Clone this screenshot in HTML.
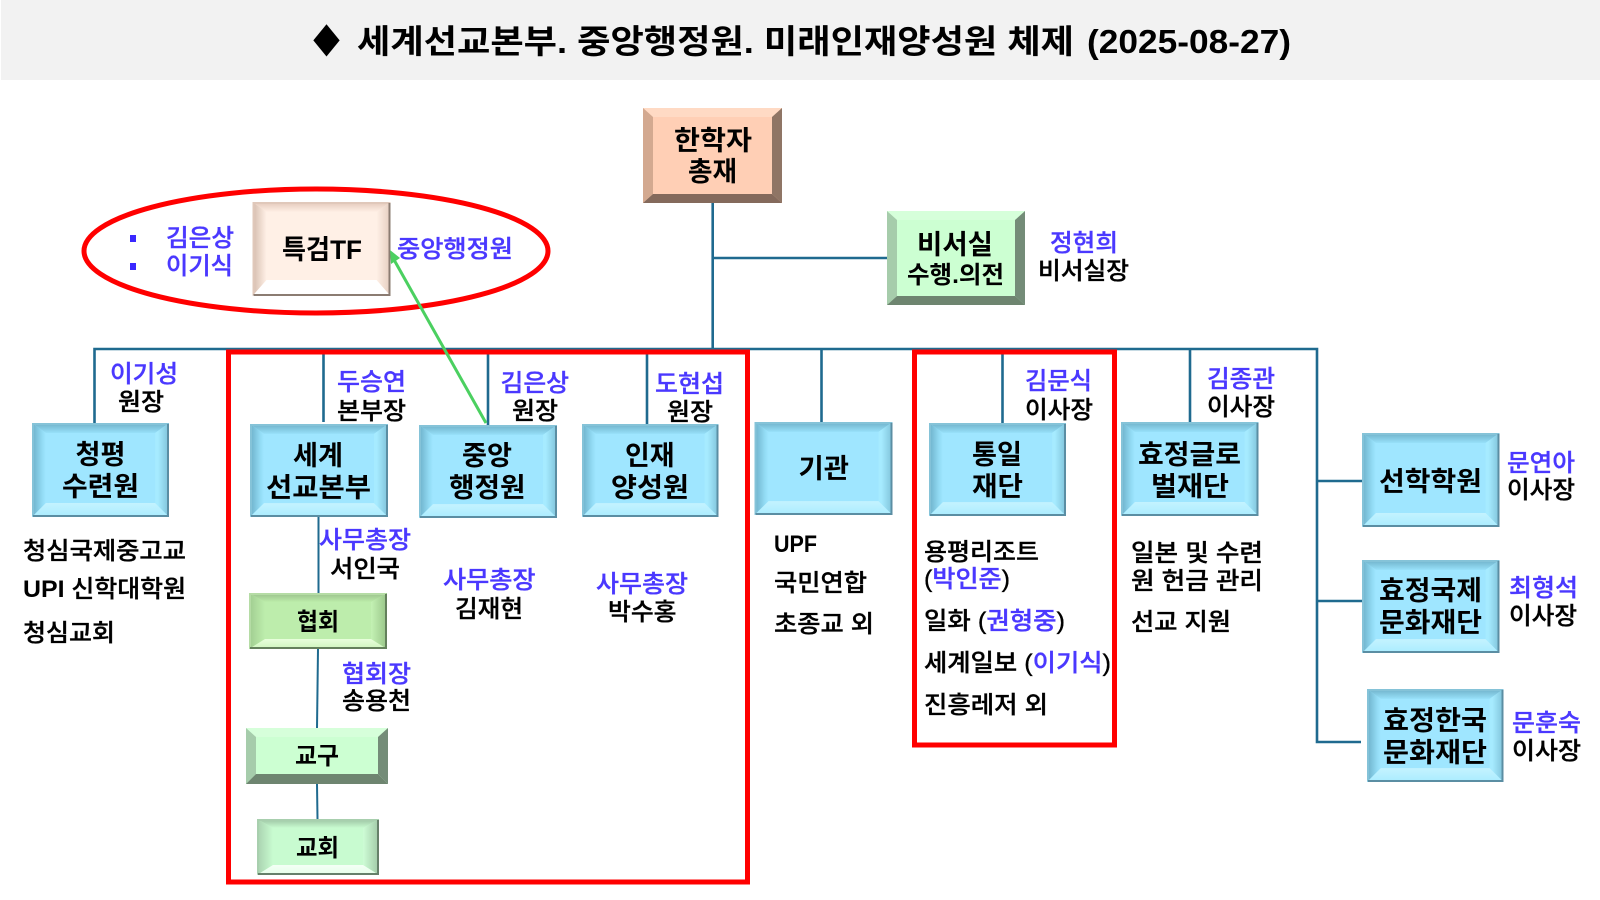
<!DOCTYPE html>
<html lang="ko">
<head>
<meta charset="utf-8">
<title>세계선교본부. 중앙행정원. 미래인재양성원 체제</title>
<style>
html,body{margin:0;padding:0;background:#fff}
svg{display:block}
text{font-family:"Liberation Sans","Noto Sans CJK KR",sans-serif;fill:#000}
.h{font-size:27px;font-weight:700}
.m{font-size:24px;font-weight:700}
.l{font-size:24px;font-weight:500;stroke:#000;stroke-width:.35px}
.l.b,.l .b{fill:#4a38ff;stroke:#4a38ff}
.u{font-weight:700;stroke:none}
</style>
</head>
<body>
<svg xmlns="http://www.w3.org/2000/svg" width="1600" height="900" viewBox="0 0 1600 900">
<defs>
<linearGradient id="bt" x1="0" y1="0" x2="0" y2="1"><stop offset="0" stop-color="#6fb0c8"/><stop offset="1" stop-color="#97e0f9"/></linearGradient>
<linearGradient id="bl" x1="0" y1="0" x2="1" y2="0"><stop offset="0" stop-color="#6cafc8"/><stop offset=".75" stop-color="#93dcf5"/><stop offset="1" stop-color="#9fe6ff"/></linearGradient>
<linearGradient id="br" x1="1" y1="0" x2="0" y2="0"><stop offset="0" stop-color="#7fc2d9"/><stop offset=".8" stop-color="#a6ebff"/><stop offset="1" stop-color="#a6ebff"/></linearGradient>
<linearGradient id="bb" x1="0" y1="0" x2="0" y2="1"><stop offset="0" stop-color="#c4f3ff"/><stop offset="1" stop-color="#a9ecff"/></linearGradient>
<linearGradient id="gt" x1="0" y1="0" x2="0" y2="1"><stop offset="0" stop-color="#98be8a"/><stop offset="1" stop-color="#bcecaa"/></linearGradient>
<linearGradient id="gl" x1="0" y1="0" x2="1" y2="0"><stop offset="0" stop-color="#a0cc90"/><stop offset="1" stop-color="#bdedac"/></linearGradient>
<linearGradient id="gr" x1="1" y1="0" x2="0" y2="0"><stop offset="0" stop-color="#98c488"/><stop offset="1" stop-color="#c4f2b4"/></linearGradient>
<linearGradient id="gb" x1="0" y1="0" x2="0" y2="1"><stop offset="0" stop-color="#e8ffdc"/><stop offset="1" stop-color="#cdf5bc"/></linearGradient>
<linearGradient id="mt" x1="0" y1="0" x2="0" y2="1"><stop offset="0" stop-color="#9cc2a2"/><stop offset="1" stop-color="#c8fbd0"/></linearGradient>
<linearGradient id="ml" x1="0" y1="0" x2="1" y2="0"><stop offset="0" stop-color="#a8d0ae"/><stop offset="1" stop-color="#c8fbd0"/></linearGradient>
<linearGradient id="mr" x1="1" y1="0" x2="0" y2="0"><stop offset="0" stop-color="#a0c8a6"/><stop offset="1" stop-color="#cefdd6"/></linearGradient>
<linearGradient id="mb" x1="0" y1="0" x2="0" y2="1"><stop offset="0" stop-color="#f4fff6"/><stop offset="1" stop-color="#e4ffe8"/></linearGradient>
<linearGradient id="ct" x1="0" y1="0" x2="0" y2="1"><stop offset="0" stop-color="#e3c9ba"/><stop offset="1" stop-color="#ffefe5"/></linearGradient>
<linearGradient id="cl" x1="0" y1="0" x2="1" y2="0"><stop offset="0" stop-color="#d4bbac"/><stop offset="1" stop-color="#fff0e6"/></linearGradient>
<linearGradient id="cr" x1="1" y1="0" x2="0" y2="0"><stop offset="0" stop-color="#e4cdbf"/><stop offset="1" stop-color="#fff0e6"/></linearGradient>

<symbol id="blue" viewBox="0 0 138 94" preserveAspectRatio="none">
<rect width="138" height="94" fill="#9fe6ff"/>
<polygon points="0,0 138,0 124,10 14,10" fill="url(#bt)"/>
<polygon points="0,0 14,10 14,80 0,94" fill="url(#bl)"/>
<polygon points="138,0 124,10 124,80 138,94" fill="url(#br)"/>
<polygon points="0,94 14,80 124,80 138,94" fill="url(#bb)"/>
<path d="M1,93V1H137" fill="none" stroke="#85c3d8" stroke-width="2"/>
<path d="M137,1V93H1" fill="none" stroke="#5b8ea3" stroke-width="2"/>
</symbol>

<symbol id="lime" viewBox="0 0 138 56" preserveAspectRatio="none">
<rect width="138" height="56" fill="#bdedac"/>
<polygon points="0,0 138,0 122,9 16,9" fill="url(#gt)"/>
<polygon points="0,0 16,9 16,46 0,56" fill="url(#gl)"/>
<polygon points="138,0 122,9 122,46 138,56" fill="url(#gr)"/>
<polygon points="0,56 16,46 122,46 138,56" fill="url(#gb)"/>
<path d="M1,55V1H137" fill="none" stroke="#b5dca5" stroke-width="2"/>
<path d="M137,1V55H1" fill="none" stroke="#64805c" stroke-width="2"/>
</symbol>

<symbol id="mintsoft" viewBox="0 0 122 56" preserveAspectRatio="none">
<rect width="122" height="56" fill="#c8fbd0"/>
<polygon points="0,0 122,0 106,9 16,9" fill="url(#mt)"/>
<polygon points="0,0 16,9 16,46 0,56" fill="url(#ml)"/>
<polygon points="122,0 106,9 106,46 122,56" fill="url(#mr)"/>
<polygon points="0,56 16,46 106,46 122,56" fill="url(#mb)"/>
<path d="M1,55V1H121" fill="none" stroke="#a8cfae" stroke-width="2"/>
<path d="M121,1V55H1" fill="none" stroke="#66806a" stroke-width="2"/>
</symbol>

<symbol id="cream" viewBox="0 0 138 94" preserveAspectRatio="none">
<rect width="138" height="94" fill="#fff0e6"/>
<polygon points="0,0 138,0 124,10 14,10" fill="url(#ct)"/>
<polygon points="0,0 14,10 14,78 0,94" fill="url(#cl)"/>
<polygon points="138,0 124,10 124,78 138,94" fill="url(#cr)"/>
<polygon points="0,94 14,78 124,78 138,94" fill="#ffffff"/>
<path d="M1,93V1H137" fill="none" stroke="#e0c8ba" stroke-width="2"/>
<path d="M137,1V93H1" fill="none" stroke="#8b7c72" stroke-width="2"/>
</symbol>

<symbol id="peach" viewBox="0 0 139 95" preserveAspectRatio="none">
<rect width="139" height="95" fill="#ffcfb5"/>
<polygon points="0,0 139,0 129,9 10,9" fill="#ffdac4"/>
<polygon points="0,0 10,9 10,86 0,95" fill="#d3a990"/>
<polygon points="139,0 129,9 129,86 139,95" fill="#8f7565"/>
<polygon points="0,95 10,86 129,86 139,95" fill="#846a5c"/>
</symbol>

<symbol id="mint" viewBox="0 0 138 94" preserveAspectRatio="none">
<rect width="138" height="94" fill="#ccffd2"/>
<polygon points="0,0 138,0 128,9 10,9" fill="#d6ffda"/>
<polygon points="0,0 10,9 10,85 0,94" fill="#a6ccab"/>
<polygon points="138,0 128,9 128,85 138,94" fill="#748c78"/>
<polygon points="0,94 10,85 128,85 138,94" fill="#6e8570"/>
</symbol>

<symbol id="mintw" viewBox="0 0 142 56" preserveAspectRatio="none">
<rect width="142" height="56" fill="#ccffd2"/>
<polygon points="0,0 142,0 132,9 10,9" fill="#d6ffda"/>
<polygon points="0,0 10,9 10,46 0,56" fill="#a6ccab"/>
<polygon points="142,0 132,9 132,46 142,56" fill="#748c78"/>
<polygon points="0,56 10,46 132,46 142,56" fill="#6e8570"/>
</symbol>
</defs>

<rect x="1" y="0" width="1599" height="80" fill="#f2f2f2"/>
<text x="313" y="53" font-size="33" font-weight="700" textLength="27" lengthAdjust="spacingAndGlyphs">◆</text>
<text x="357" y="53" font-size="33" font-weight="700" textLength="717" lengthAdjust="spacingAndGlyphs">세계선교본부. 중앙행정원. 미래인재양성원 체제</text>
<text x="1087" y="53" font-size="33" font-weight="700" textLength="204" lengthAdjust="spacingAndGlyphs">(2025-08-27)</text>

<!-- connectors -->
<g fill="none" stroke="#1f6a8f" stroke-width="2.6">
<path d="M712.7,203V349"/>
<path d="M712.7,258H887"/>
<path d="M94.5,423V349H1317V742H1361"/>
<path d="M323.5,349V422"/>
<path d="M488,349V425"/>
<path d="M647,349V424"/>
<path d="M821.5,349V423"/>
<path d="M1002.5,349V423"/>
<path d="M1190,349V422"/>
<path d="M1317,481H1362"/>
<path d="M1317,601H1362"/>
</g>
<g fill="none" stroke="#1f6a8f" stroke-width="2">
<path d="M318.5,517V593"/>
<path d="M318,649L317,728"/>
<path d="M317,784L317.5,819"/>
</g>

<!-- red outlines -->
<rect x="228.5" y="352" width="519" height="530" fill="none" stroke="#ff0000" stroke-width="5"/>
<rect x="914.5" y="352" width="200" height="393" fill="none" stroke="#ff0000" stroke-width="5"/>
<ellipse cx="316" cy="251" rx="232" ry="62" fill="none" stroke="#ff0000" stroke-width="5"/>

<!-- boxes -->
<use href="#peach" x="643" y="108" width="139" height="95"/>
<use href="#mint" x="887" y="211" width="138" height="94"/>
<use href="#cream" x="252.5" y="202" width="138" height="94"/>
<use href="#blue" x="32" y="423" width="137" height="94"/>
<use href="#blue" x="250" y="424" width="138" height="93"/>
<use href="#blue" x="419" y="425" width="138" height="93"/>
<use href="#blue" x="582" y="424" width="136.500" height="93"/>
<use href="#blue" x="754.5" y="422" width="138" height="93"/>
<use href="#blue" x="929" y="423" width="137" height="93"/>
<use href="#blue" x="1121" y="422" width="137.500" height="94"/>
<use href="#blue" x="1362" y="433" width="137.500" height="94"/>
<use href="#blue" x="1362" y="560" width="137.500" height="93"/>
<use href="#blue" x="1367" y="689" width="136.500" height="93"/>
<use href="#lime" x="249" y="593" width="138" height="56"/>
<use href="#mintw" x="246" y="728" width="142" height="56"/>
<use href="#mintsoft" x="257" y="819" width="122" height="56"/>

<!-- green arrow -->
<line x1="486" y1="423" x2="393" y2="258" stroke="#4bd060" stroke-width="3"/>
<polygon points="390,250 400,258 391,264" fill="#4bd060"/>

<!-- bullets -->
<rect x="130" y="235" width="6" height="7" fill="#3a28ff"/>
<rect x="130" y="263" width="6" height="7" fill="#3a28ff"/>

<!-- box text -->
<text class="h" x="674" y="150" textLength="78" lengthAdjust="spacingAndGlyphs">한학자</text>
<text class="h" x="688" y="181" textLength="49" lengthAdjust="spacingAndGlyphs">총재</text>
<text class="h" x="917" y="254" textLength="76" lengthAdjust="spacingAndGlyphs">비서실</text>
<text class="m" x="907" y="283" textLength="97" lengthAdjust="spacingAndGlyphs">수행.의전</text>
<text class="h" x="282" y="259" textLength="80" lengthAdjust="spacingAndGlyphs">특검TF</text>
<text class="h" x="75.500" y="464" textLength="50" lengthAdjust="spacingAndGlyphs">청평</text>
<text class="h" x="62" y="496" textLength="77" lengthAdjust="spacingAndGlyphs">수련원</text>
<text class="h" x="293" y="465" textLength="50" lengthAdjust="spacingAndGlyphs">세계</text>
<text class="h" x="266" y="497" textLength="105" lengthAdjust="spacingAndGlyphs">선교본부</text>
<text class="h" x="462" y="465" textLength="50" lengthAdjust="spacingAndGlyphs">중앙</text>
<text class="h" x="449" y="497" textLength="76.500" lengthAdjust="spacingAndGlyphs">행정원</text>
<text class="h" x="625" y="465" textLength="49.500" lengthAdjust="spacingAndGlyphs">인재</text>
<text class="h" x="611" y="497" textLength="78" lengthAdjust="spacingAndGlyphs">양성원</text>
<text class="h" x="798.500" y="478" textLength="50.500" lengthAdjust="spacingAndGlyphs">기관</text>
<text class="h" x="972" y="464" textLength="50" lengthAdjust="spacingAndGlyphs">통일</text>
<text class="h" x="972" y="496" textLength="51" lengthAdjust="spacingAndGlyphs">재단</text>
<text class="h" x="1138" y="464" textLength="103" lengthAdjust="spacingAndGlyphs">효정글로</text>
<text class="h" x="1151" y="496" textLength="78" lengthAdjust="spacingAndGlyphs">벌재단</text>
<text class="h" x="1379" y="491" textLength="103" lengthAdjust="spacingAndGlyphs">선학학원</text>
<text class="h" x="1379" y="600" textLength="103" lengthAdjust="spacingAndGlyphs">효정국제</text>
<text class="h" x="1379" y="632" textLength="103" lengthAdjust="spacingAndGlyphs">문화재단</text>
<text class="h" x="1383" y="730" textLength="104" lengthAdjust="spacingAndGlyphs">효정한국</text>
<text class="h" x="1383" y="762" textLength="104" lengthAdjust="spacingAndGlyphs">문화재단</text>
<text class="m" x="297" y="630" textLength="42" lengthAdjust="spacingAndGlyphs">협회</text>
<text class="m" x="295" y="764" textLength="44" lengthAdjust="spacingAndGlyphs">교구</text>
<text class="m" x="296" y="856" textLength="43" lengthAdjust="spacingAndGlyphs">교회</text>

<!-- labels -->
<text class="l b" x="166" y="246" textLength="68" lengthAdjust="spacingAndGlyphs">김은상</text>
<text class="l b" x="166" y="274" textLength="67" lengthAdjust="spacingAndGlyphs">이기식</text>
<text class="l b" x="397" y="257" textLength="116" lengthAdjust="spacingAndGlyphs">중앙행정원</text>
<text class="l b" x="1050" y="251" textLength="68" lengthAdjust="spacingAndGlyphs">정현희</text>
<text class="l" x="1038" y="279" textLength="91" lengthAdjust="spacingAndGlyphs">비서실장</text>
<text class="l b" x="110" y="382" textLength="68" lengthAdjust="spacingAndGlyphs">이기성</text>
<text class="l" x="118" y="410" textLength="46" lengthAdjust="spacingAndGlyphs">원장</text>
<text class="l b" x="337" y="390" textLength="69" lengthAdjust="spacingAndGlyphs">두승연</text>
<text class="l" x="337" y="419" textLength="69" lengthAdjust="spacingAndGlyphs">본부장</text>
<text class="l b" x="500.500" y="391" textLength="68.500" lengthAdjust="spacingAndGlyphs">김은상</text>
<text class="l" x="512" y="419" textLength="46" lengthAdjust="spacingAndGlyphs">원장</text>
<text class="l b" x="655" y="392" textLength="69" lengthAdjust="spacingAndGlyphs">도현섭</text>
<text class="l" x="667" y="420" textLength="46" lengthAdjust="spacingAndGlyphs">원장</text>
<text class="l b" x="1025" y="389" textLength="67" lengthAdjust="spacingAndGlyphs">김문식</text>
<text class="l" x="1025" y="418" textLength="68" lengthAdjust="spacingAndGlyphs">이사장</text>
<text class="l b" x="1207" y="387" textLength="68" lengthAdjust="spacingAndGlyphs">김종관</text>
<text class="l" x="1207" y="415" textLength="68" lengthAdjust="spacingAndGlyphs">이사장</text>
<text class="l b" x="1507" y="471" textLength="68" lengthAdjust="spacingAndGlyphs">문연아</text>
<text class="l" x="1507" y="498" textLength="68" lengthAdjust="spacingAndGlyphs">이사장</text>
<text class="l b" x="1509" y="596" textLength="69" lengthAdjust="spacingAndGlyphs">최형석</text>
<text class="l" x="1509" y="624" textLength="68" lengthAdjust="spacingAndGlyphs">이사장</text>
<text class="l b" x="1512" y="731" textLength="69" lengthAdjust="spacingAndGlyphs">문훈숙</text>
<text class="l" x="1512" y="759" textLength="69" lengthAdjust="spacingAndGlyphs">이사장</text>
<text class="l b" x="319" y="548" textLength="92" lengthAdjust="spacingAndGlyphs">사무총장</text>
<text class="l" x="330" y="577" textLength="70" lengthAdjust="spacingAndGlyphs">서인국</text>
<text class="l b" x="443" y="588" textLength="92.500" lengthAdjust="spacingAndGlyphs">사무총장</text>
<text class="l" x="455" y="617" textLength="68" lengthAdjust="spacingAndGlyphs">김재현</text>
<text class="l b" x="596" y="592" textLength="92" lengthAdjust="spacingAndGlyphs">사무총장</text>
<text class="l" x="608" y="620" textLength="68.500" lengthAdjust="spacingAndGlyphs">박수홍</text>
<text class="l b" x="342" y="682" textLength="69" lengthAdjust="spacingAndGlyphs">협회장</text>
<text class="l" x="342" y="709" textLength="69" lengthAdjust="spacingAndGlyphs">송용천</text>

<!-- lists -->
<text class="l" x="23" y="559" textLength="163" lengthAdjust="spacingAndGlyphs">청심국제중고교</text>
<text class="l" x="23" y="597" textLength="163" lengthAdjust="spacingAndGlyphs"><tspan class="u">UPI</tspan> 신학대학원</text>
<text class="l" x="23" y="641" textLength="92" lengthAdjust="spacingAndGlyphs">청심교회</text>
<text class="m" x="774" y="552" textLength="43" lengthAdjust="spacingAndGlyphs">UPF</text>
<text class="l" x="774" y="591" textLength="93" lengthAdjust="spacingAndGlyphs">국민연합</text>
<text class="l" x="774" y="632" textLength="100" lengthAdjust="spacingAndGlyphs">초종교 외</text>
<text class="l" x="924" y="560" textLength="115" lengthAdjust="spacingAndGlyphs">용평리조트</text>
<text class="l" x="924" y="587" textLength="86" lengthAdjust="spacingAndGlyphs">(<tspan class="b">박인준</tspan>)</text>
<text class="l" x="924" y="629" textLength="141" lengthAdjust="spacingAndGlyphs">일화 (<tspan class="b">권형중</tspan>)</text>
<text class="l" x="924" y="671" textLength="187" lengthAdjust="spacingAndGlyphs">세계일보 (<tspan class="b">이기식</tspan>)</text>
<text class="l" x="924" y="713" textLength="124" lengthAdjust="spacingAndGlyphs">진흥레저 외</text>
<text class="l" x="1131" y="561" textLength="132" lengthAdjust="spacingAndGlyphs">일본 및 수련</text>
<text class="l" x="1131" y="589" textLength="132" lengthAdjust="spacingAndGlyphs">원 헌금 관리</text>
<text class="l" x="1131" y="630" textLength="100" lengthAdjust="spacingAndGlyphs">선교 지원</text>
</svg>
</body>
</html>
